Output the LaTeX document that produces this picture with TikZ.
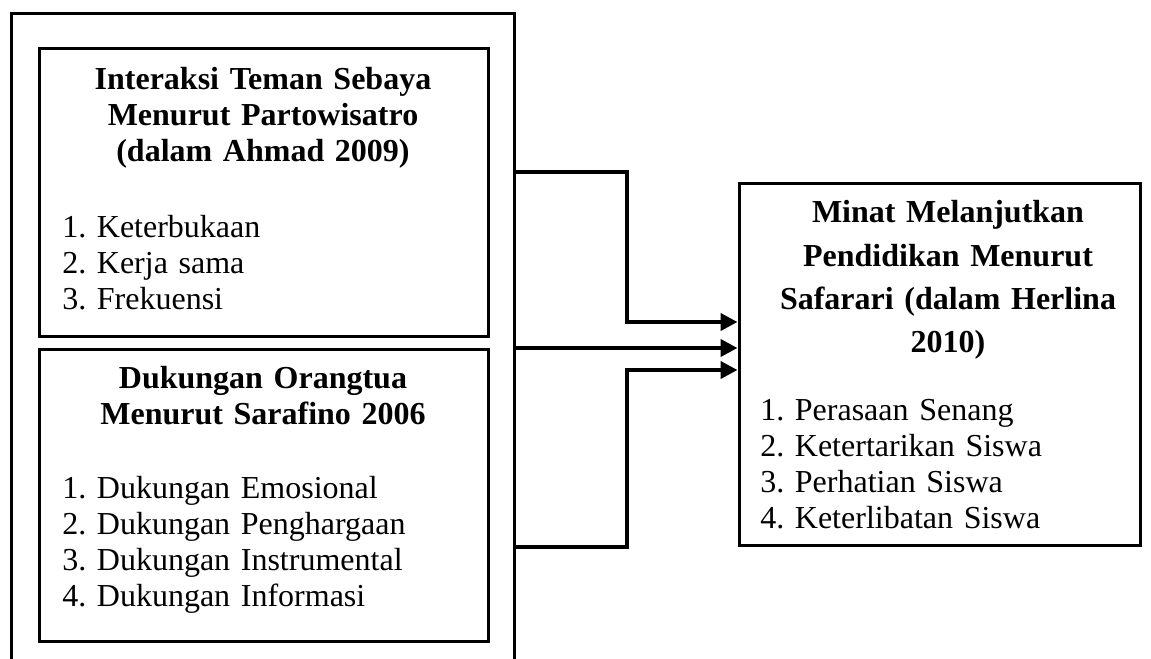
\documentclass[tikz,border=0pt]{standalone}
\usepackage{fontspec}
\setmainfont{Liberation Serif}
\usetikzlibrary{arrows.meta,positioning}
\frenchspacing

\begin{document}
\begin{tikzpicture}[x=0.75pt,y=-0.75pt,
  box/.style={draw,line width=2.25pt,inner sep=0pt},
  ttl/.style={anchor=base,align=center,inner sep=0pt,text width=320pt,
              font=\fontsize{24}{27}\selectfont\bfseries},
  lst/.style={anchor=base west,align=left,inner sep=0pt,text width=300pt,
              font=\fontsize{24}{27}\selectfont},
  arr/.style={-{Triangle[length=12.75pt,width=12.75pt]},line width=3pt}
]
\useasboundingbox (0,0) rectangle (1151,659);
% outer frame, open at the bottom edge
\draw[line width=2.25pt] (11,670) -- (11,14) -- (514,14) -- (514,670);
\coordinate (frameE) at (514,14);
% left boxes
\node[box,minimum width=336.75pt,minimum height=215.25pt] (peer) at (263.5,192.5) {};
\node[box,minimum width=336.75pt,minimum height=219pt] (parent) at (263.5,495) {};
% right box
\node[box,minimum width=300.75pt,minimum height=270.75pt] (goal) at (939.5,364.5) {};
% texts of the peer box
\node[ttl] (peerT) at (263,90) {Interaksi Teman Sebaya\\Menurut Partowisatro\\(dalam Ahmad 2009)};
\node[lst] (peerL) at (62,237) {1. Keterbukaan\\2. Kerja sama\\3. Frekuensi};
% texts of the parent box
\node[ttl] (parentT) at (263,388) {Dukungan Orangtua\\Menurut Sarafino 2006};
\node[lst] (parentL) at (62,498) {1. Dukungan Emosional\\2. Dukungan Penghargaan\\3. Dukungan Instrumental\\4. Dukungan Informasi};
% texts of the right box
\node[ttl,text width=280pt,font=\fontsize{24}{32.25}\selectfont\bfseries] (goalT) at (948,223)
  {Minat Melanjutkan\\Pendidikan Menurut\\Safarari (dalam Herlina\\2010)};
\node[lst] (goalL) at (760,420) {1. Perasaan Senang\\2. Ketertarikan Siswa\\3. Perhatian Siswa\\4. Keterlibatan Siswa};

\draw[arr] (frameE |- 0,172) -| (627,322) -- (goal.west |- 0,322);
\draw[arr] (frameE |- 0,348) -- (goal.west |- 0,348);
\draw[arr] (frameE |- 0,547) -| (627,370) -- (goal.west |- 0,370);
\end{tikzpicture}
\end{document}
